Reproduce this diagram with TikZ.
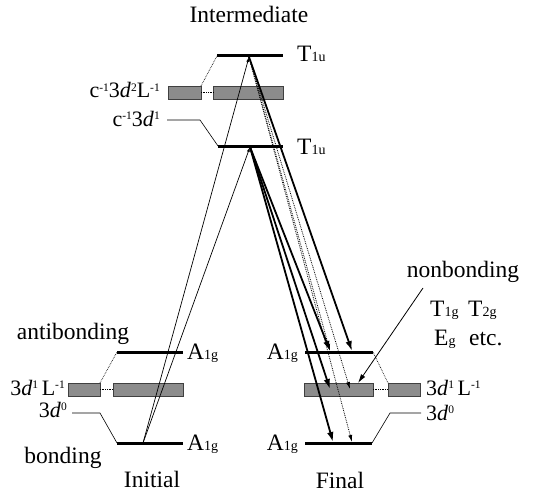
\documentclass[tikz,border=0pt]{standalone}
\usepackage{fontspec}
\setmainfont{Liberation Serif}
\usetikzlibrary{arrows.meta}
\newcommand\lsub[1]{{\fontsize{14}{14}\selectfont #1}}
\newcommand\lsup[1]{\raisebox{0.3em}{\fontsize{11.5}{12}\selectfont #1}}
\begin{document}
\begin{tikzpicture}[x=1pt,y=-1pt,
  every node/.style={font=\fontsize{23.5}{26}\selectfont, inner sep=0pt},
  small/.style={font=\fontsize{22}{24}\selectfont},
  level/.style={line width=3pt},
  thk/.style={line width=1.8pt, -{Latex[length=10pt,width=6.5pt]}},
  dots/.style={line width=0.8pt, densely dotted, -{Latex[length=7pt,width=4pt]}},
  thinarr/.style={line width=0.7pt, -{Latex[length=5pt,width=3pt]}},
  conn/.style={line width=0.6pt},
  dconn/.style={line width=0.7pt, densely dotted},
  gbox/.style={draw=black!75, line width=0.6pt, fill=black!45, inner sep=0pt, outer sep=0pt, minimum height=13}]
\useasboundingbox (0,0) rectangle (533,495);

% ---------- boxes ----------
\node[gbox, minimum width=33] (mbL) at (184.5,92.5) {};
\node[gbox, minimum width=70] (mbR) at (248,92.5) {};
\node[gbox, minimum width=32] (ibL) at (84,389.5) {};
\node[gbox, minimum width=70] (ibR) at (148,389.5) {};
\node[gbox, minimum width=69] (fbL) at (338.5,389.5) {};
\node[gbox, minimum width=32] (fbR) at (404,389.5) {};

% ---------- level coordinates ----------
\coordinate (mTw) at (217,56);  \coordinate (mTe) at (283,56);
\coordinate (mMw) at (218,146); \coordinate (mMe) at (283,146);
\coordinate (iUw) at (117,352); \coordinate (iUe) at (183,352);
\coordinate (iLw) at (117,443); \coordinate (iLe) at (183,443);
\coordinate (fUw) at (305,352); \coordinate (fUe) at (373,352);
\coordinate (fLw) at (305,443); \coordinate (fLe) at (372,443);

\draw[level] (mTw) -- (mTe);
\draw[level] (mMw) -- (mMe);
\draw[level] (iUw) -- (iUe);
\draw[level] (iLw) -- (iLe);
\draw[level] (fUw) -- (fUe);
\draw[level] (fLw) -- (fLe);

% ---------- correlation connectors ----------
\draw[dconn] (mbL.east) -- (mbR.west);
\draw[dconn] (mbL.north east) -- (mTw);
\coordinate (c1a) at (167,120); \coordinate (c1b) at (200,120);
\draw[conn] (c1a) -- (c1b) -- (mMw);

\draw[dconn] (ibL.east) -- (ibR.west);
\draw[dconn] (ibL.north east) -- (iUw);
\coordinate (i0a) at (72,413); \coordinate (i0b) at (100,413);
\draw[conn] (i0a) -- (i0b) -- (iLw);

\draw[dconn] (fbL.east) -- (fbR.west);
\draw[dconn] (fUe) -- (fbR.north west);
\coordinate (f0a) at (421,413); \coordinate (f0b) at (390,413);
\draw[conn] (f0a) -- (f0b) -- (fLe);

% ---------- transition coordinates ----------
\coordinate (iS) at (143,443);
\coordinate (tA) at (249,57);
\coordinate (mA) at (250,147);
\coordinate (fU1) at (330,351);
\coordinate (fU2) at (352,351);
\coordinate (fB1) at (330,389);
\coordinate (fB2) at (350,389);
\coordinate (fL1) at (333,442);
\coordinate (fL2) at (352,442);

% absorption
\draw[thinarr] (iS) -- (tA);
\draw[thinarr] (iS) -- (mA);
% emission
\draw[thk] (tA) -- (fU2);
\draw[dots] (tA) -- (fU1);
\draw[dots] (tA) -- (fB2);
\draw[dots] (tA) -- (fL2);
\draw[thk] (mA) -- (fU1);
\draw[thk] (mA) -- (fB1);
\draw[thk] (mA) -- (fL1);

% ---------- texts ----------
\node[anchor=base] (tInt) at (249,23) {Intermediate};
\node[anchor=base west] (tT1) at (297,62) {T\lsub{1u}};
\node[anchor=base west] (tT2) at (297,154) {T\lsub{1u}};
\node[small, anchor=base east] (tC2) at (160,98) {c\lsup{-1}3\textit{d}\lsup{2}L\lsup{-1}};
\node[small, anchor=base east] (tC1) at (160,126) {c\lsup{-1}3\textit{d}\lsup{1}};

\node[anchor=base] (tAnti) at (73,339) {antibonding};
\node[anchor=base west] (tiA1) at (187,359) {A\lsub{1g}};
\node[small, anchor=base east] (ti3d1) at (65,395) {3\textit{d}\lsup{1}\,L\lsup{-1}};
\node[small, anchor=base east] (ti3d0) at (67,417) {3\textit{d}\lsup{0}};
\node[anchor=base west] (tiA2) at (187,450) {A\lsub{1g}};
\node[anchor=base] (tBond) at (63,463) {bonding};
\node[anchor=base] (tIni) at (152,487) {Initial};

\node[anchor=base east] (tfA1) at (298,359) {A\lsub{1g}};
\node[anchor=base east] (tfA2) at (298,450) {A\lsub{1g}};
\node[small, anchor=base west] (tf3d1) at (426,395) {3\textit{d}\lsup{1}\,L\lsup{-1}};
\node[small, anchor=base west] (tf3d0) at (426,420) {3\textit{d}\lsup{0}};
\node[anchor=base] (tFin) at (340,488) {Final};

\node[anchor=base] (tNon) at (463,277) {nonbonding};
\node[anchor=base west] (tT1g) at (430,316) {T\lsub{1g}};
\node[anchor=base west] (tT2g) at (468,316) {T\lsub{2g}};
\node[anchor=base west] (tEg) at (434,345) {E\lsub{g}};
\node[anchor=base west] (tEtc) at (469,345) {etc.};

\coordinate (nbS) at (423,288);
\coordinate (nbE) at (358,383);
\draw[line width=0.8pt, -{Latex[length=9pt,width=5pt]}] (nbS) -- (nbE);
\end{tikzpicture}
\end{document}
